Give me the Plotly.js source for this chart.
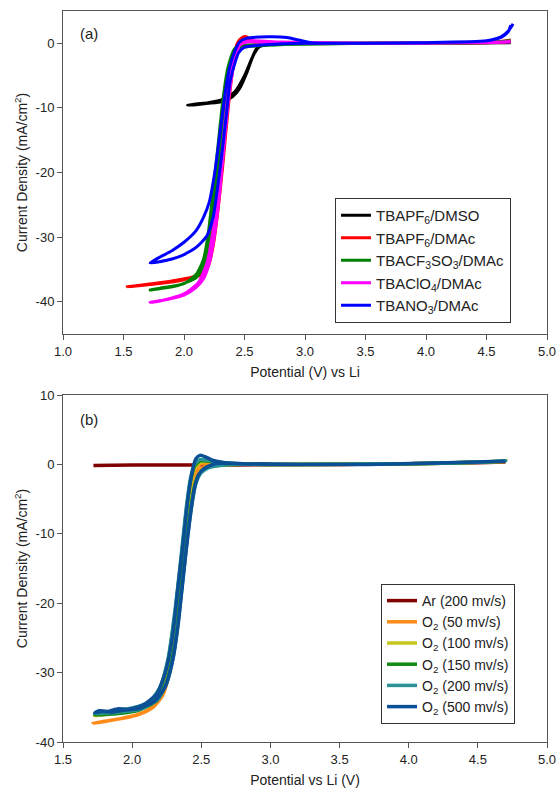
<!DOCTYPE html>
<html>
<head>
<meta charset="utf-8">
<script src="https://cdn.plot.ly/plotly-3.0.1.min.js"></script>
<style>html,body{margin:0;padding:0;background:#fff;}#chart{width:559px;height:789px;}</style>
</head>
<body>
<div id="chart"></div>
<script>
// ---------- Panel (a): CVs in different electrolytes ----------
const namesA = ["TBAPF<sub>6</sub>/DMSO", "TBAPF<sub>6</sub>/DMAc", "TBACF<sub>3</sub>SO<sub>3</sub>/DMAc", "TBAClO<sub>4</sub>/DMAc", "TBANO<sub>3</sub>/DMAc"];
const colorsA = ["#000000", "#ff0000", "#008000", "#ff00ff", "#0000ff"];

const dmsoX = [4.7, 4.0, 3.0, 2.7, 2.62, 2.57, 2.52, 2.46, 2.40, 2.32, 2.2, 2.1, 2.03, 2.1, 2.2, 2.32, 2.42, 2.50, 2.55, 2.60, 2.65, 2.8, 3.5, 4.7];
const dmsoY = [0.1, 0, 0, -0.1, -0.6, -2.0, -4.5, -7.0, -8.3, -9.0, -9.3, -9.5, -9.6, -9.4, -9.2, -8.7, -7.5, -5.0, -2.8, -0.8, -0.1, 0, 0, 0.1];

const pf6X = [4.7, 4.5, 3.5, 2.8, 2.6, 2.52, 2.48, 2.44, 2.40, 2.36, 2.32, 2.28, 2.24, 2.20, 2.15, 2.0, 1.8, 1.53, 1.7, 1.9, 2.1, 2.18, 2.23, 2.27, 2.31, 2.35, 2.40, 2.44, 2.48, 2.52, 2.56, 2.7, 3.5, 4.5, 4.7];
const pf6Y = [0.3, 0.1, 0, 0, 0.1, 0.6, 0.5, -1, -4.5, -11, -19, -26, -31.5, -34.5, -35.8, -36.6, -37.2, -37.7, -37.3, -36.8, -36, -34.8, -31, -26, -19, -11, -3.5, 0, 0.9, 1.0, 0.4, 0.1, 0, 0.1, 0.5];

const cf3X = [4.7, 4.5, 3.5, 3.0, 2.7, 2.5, 2.44, 2.40, 2.36, 2.32, 2.28, 2.24, 2.20, 2.15, 2.10, 1.95, 1.72, 1.8, 2.0, 2.1, 2.16, 2.20, 2.24, 2.28, 2.32, 2.36, 2.42, 2.5, 2.8, 3.5, 4.5, 4.7];
const cf3Y = [0.4, 0.1, 0, -0.1, -0.3, -0.6, -1.2, -3, -7, -13, -20, -27, -32, -35, -36.3, -37.5, -38.2, -37.9, -37.2, -35.8, -33.5, -29.5, -23, -16, -9, -4, -0.8, -0.3, -0.2, 0, 0.1, 0.4];

const clo4X = [4.7, 4.5, 3.5, 2.7, 2.52, 2.46, 2.42, 2.38, 2.35, 2.32, 2.29, 2.25, 2.21, 2.16, 2.10, 2.0, 1.85, 1.72, 1.8, 2.0, 2.12, 2.19, 2.24, 2.28, 2.31, 2.34, 2.38, 2.42, 2.48, 2.55, 2.8, 3.5, 4.5, 4.7];
const clo4Y = [0.2, 0.1, 0, 0.1, 0.2, -0.3, -2.5, -7, -12, -18, -24, -30, -34, -36.5, -37.8, -39, -39.7, -40.1, -39.9, -38.8, -37, -34, -29, -23, -18, -12, -5.5, -1.5, 0.1, 0.4, 0.2, 0, 0.1, 0.3];

const no3X = [4.7, 4.68, 4.62, 4.5, 4.0, 3.5, 3.0, 2.7, 2.5, 2.45, 2.42, 2.38, 2.36, 2.32, 2.28, 2.24, 2.19, 2.1, 2.0, 1.9, 1.8, 1.72, 1.78, 1.9, 2.0, 2.1, 2.16, 2.21, 2.25, 2.28, 2.31, 2.35, 2.38, 2.42, 2.46, 2.52, 2.7, 2.85, 2.95, 3.05, 3.5, 4.0, 4.5, 4.62, 4.68, 4.72];
const no3Y = [2.8, 1.8, 0.9, 0.4, 0.1, 0, 0, -0.2, -0.6, -1.5, -3.1, -6, -9.3, -16, -22, -27, -29.8, -31.6, -32.7, -33.4, -33.8, -34, -33.3, -32.1, -30.8, -29, -27, -24.5, -20.5, -16.5, -12, -6.5, -3.5, -1.2, 0.2, 0.8, 1.0, 0.9, 0.5, 0.1, 0, 0.1, 0.4, 1.0, 1.9, 3.0];

// tick labels (hyphen minus as in the original)
const yTicksA = [0, -10, -20, -30, -40];
const yTickTextA = ["0", "-10", "-20", "-30", "-40"];
const yTicksB = [10, 0, -10, -20, -30, -40];
const yTickTextB = ["10", "0", "-10", "-20", "-30", "-40"];

// ---------- Panel (b): scan rates ----------
const namesB = ["Ar (200 mv/s)", "O<sub>2</sub> (50 mv/s)", "O<sub>2</sub> (100 mv/s)", "O<sub>2</sub> (150 mv/s)", "O<sub>2</sub> (200 mv/s)", "O<sub>2</sub> (500 mv/s)"];
const colorsB = ["#800000", "#ff8c1a", "#c5c81a", "#138a13", "#2a9494", "#0b4f94"];

const arX = [1.72, 2.0, 2.5, 3.0, 3.5, 4.0, 4.5, 4.7];
const arY = [-0.15, -0.1, -0.1, -0.05, 0, 0.1, 0.25, 0.35];

const o50X = [4.7, 4.5, 4.0, 3.5, 3.0, 2.7, 2.55, 2.5, 2.46, 2.43, 2.40, 2.37, 2.34, 2.31, 2.27, 2.22, 2.15, 2.05, 1.9, 1.72, 1.8, 2.0, 2.12, 2.2, 2.26, 2.31, 2.35, 2.39, 2.42, 2.45, 2.5, 2.6, 3.0, 3.5, 4.0, 4.5, 4.7];
const o50Y = [0.4, 0.3, 0.1, 0, 0, 0, -0.2, -0.6, -1.5, -4, -8.5, -14, -19.5, -25, -30, -33.3, -35, -36, -36.7, -37.3, -37.0, -36.3, -35.3, -33.5, -30, -24, -17, -10, -4.5, -1, 0.1, 0.1, 0, 0, 0.1, 0.3, 0.4];

const o100X = [4.7, 4.0, 3.0, 2.7, 2.55, 2.5, 2.46, 2.43, 2.40, 2.37, 2.34, 2.30, 2.25, 2.18, 2.05, 1.9, 1.73, 1.85, 2.0, 2.12, 2.2, 2.26, 2.31, 2.35, 2.39, 2.42, 2.45, 2.49, 2.55, 2.65, 3.0, 4.0, 4.5, 4.7];
const o100Y = [0.45, 0.1, 0, 0, -0.3, -0.9, -2.2, -5, -9.5, -15, -20.5, -26.5, -31, -33.8, -35.3, -35.8, -36.2, -35.9, -35.4, -34.5, -32.5, -28.5, -22, -15, -7.5, -3, -0.6, 0.3, 0.4, 0.1, 0, 0.1, 0.3, 0.45];

const o150X = [4.7, 4.0, 3.0, 2.7, 2.55, 2.5, 2.46, 2.43, 2.40, 2.37, 2.34, 2.30, 2.25, 2.18, 2.05, 1.9, 1.73, 1.85, 2.0, 2.12, 2.2, 2.26, 2.31, 2.35, 2.39, 2.42, 2.45, 2.49, 2.55, 2.65, 3.0, 4.0, 4.5, 4.7];
const o150Y = [0.45, 0.1, 0, 0, -0.4, -1.0, -2.5, -5.5, -10, -15.5, -21, -27, -31.3, -34, -35.4, -35.9, -36.1, -35.8, -35.3, -34.4, -32.3, -28.2, -21.5, -14.5, -7, -2.6, -0.3, 0.5, 0.5, 0.2, 0, 0.1, 0.3, 0.45];

const o200X = [4.7, 4.0, 3.0, 2.7, 2.55, 2.5, 2.46, 2.43, 2.40, 2.37, 2.34, 2.30, 2.25, 2.18, 2.05, 1.9, 1.73, 1.85, 2.0, 2.12, 2.2, 2.26, 2.31, 2.35, 2.39, 2.42, 2.45, 2.49, 2.55, 2.65, 3.0, 4.0, 4.5, 4.7];
const o200Y = [0.45, 0.1, 0, 0, -0.5, -1.2, -2.8, -6, -10.5, -16, -21.5, -27.5, -31.5, -34, -35.3, -35.7, -35.9, -35.6, -35.1, -34.3, -32.2, -28, -21, -14, -6.5, -2.2, 0, 0.7, 0.6, 0.2, 0, 0.1, 0.3, 0.45];

const o500X = [4.7, 4.5, 4.2, 3.7, 3.2, 2.8, 2.6, 2.52, 2.48, 2.45, 2.42, 2.39, 2.36, 2.33, 2.29, 2.24, 2.17, 2.05, 1.95, 1.85, 1.78, 1.73, 1.76, 1.82, 1.9, 1.97, 2.05, 2.1, 2.18, 2.24, 2.29, 2.33, 2.37, 2.40, 2.43, 2.46, 2.49, 2.53, 2.58, 2.65, 2.8, 3.2, 3.7, 4.2, 4.5, 4.7];
const o500Y = [0.5, 0.35, 0.2, 0, 0, 0.1, 0.1, -0.6, -1.5, -3.5, -7.5, -12.5, -18, -23.5, -28.5, -32, -34, -35.2, -35.4, -35.7, -35.6, -35.8, -35.5, -35.6, -35.2, -35.3, -34.9, -34.4, -33, -30, -25, -18, -11, -5.5, -1.5, 0.8, 1.3, 1.1, 0.6, 0.3, 0.1, 0, 0, 0.2, 0.35, 0.5];

const dataA = [[dmsoX, dmsoY], [pf6X, pf6Y], [cf3X, cf3Y], [clo4X, clo4Y], [no3X, no3Y]];
const dataB = [[arX, arY], [o50X, o50Y], [o100X, o100Y], [o150X, o150Y], [o200X, o200Y], [o500X, o500Y]];

const traces = [];
dataA.forEach((d, i) => traces.push({
  x: d[0], y: d[1], type: "scatter", mode: "lines", name: namesA[i],
  line: {color: colorsA[i], width: 3, shape: "spline", smoothing: 0.6},
  xaxis: "x", yaxis: "y", legend: "legend"
}));
dataB.forEach((d, i) => traces.push({
  x: d[0], y: d[1], type: "scatter", mode: "lines", name: namesB[i],
  line: {color: colorsB[i], width: 3.5, shape: "spline", smoothing: 0.6},
  xaxis: "x2", yaxis: "y2", legend: "legend2"
}));

const font = {family: "Liberation Sans, Arial, sans-serif", size: 13, color: "#222"};
const axBase = {
  showline: true, mirror: true, linecolor: "#555", linewidth: 1,
  ticks: "outside", ticklen: 5, tickcolor: "#555", tickwidth: 1,
  showgrid: false, zeroline: false, tickfont: {size: 13, color: "#222"}
};
const D = 731;
const layout = {
  width: 559, height: 789,
  margin: {l: 63, r: 12, t: 11, b: 47},
  paper_bgcolor: "#fff", plot_bgcolor: "#fff",
  font: font,
  showlegend: true,
  xaxis: Object.assign({}, axBase, {domain: [0, 1], range: [1.0, 5.0], dtick: 0.5, tickformat: ".1f", anchor: "y",
    title: {text: "Potential (V) vs Li", font: {size: 14, color: "#222"}, standoff: 9}}),
  yaxis: Object.assign({}, axBase, {domain: [(742 - 334) / D, 1], range: [-45, 5], tickmode: "array", tickvals: yTicksA, ticktext: yTickTextA, anchor: "x",
    title: {text: "Current Density (mA/cm<sup>2</sup>)", font: {size: 14, color: "#222"}, standoff: 4}}),
  xaxis2: Object.assign({}, axBase, {domain: [0, 1], range: [1.5, 5.0], dtick: 0.5, tickformat: ".1f", anchor: "y2",
    title: {text: "Potential vs Li (V)", font: {size: 14, color: "#222"}, standoff: 9}}),
  yaxis2: Object.assign({}, axBase, {domain: [0, (742 - 395) / D], range: [-40, 10], tickmode: "array", tickvals: yTicksB, ticktext: yTickTextB, anchor: "x2",
    title: {text: "Current Density (mA/cm<sup>2</sup>)", font: {size: 14, color: "#222"}, standoff: 4}}),
  legend: {x: (335 - 63) / 484, y: (742 - 198) / D, xanchor: "left", yanchor: "top",
    bordercolor: "#333", borderwidth: 1, bgcolor: "#fff", font: {size: 15, color: "#222"}, tracegroupgap: 0},
  legend2: {x: (381 - 63) / 484, y: (742 - 584) / D, xanchor: "left", yanchor: "top",
    bordercolor: "#333", borderwidth: 1, bgcolor: "#fff", font: {size: 14, color: "#222"}, tracegroupgap: 0},
  annotations: [
    {text: "(a)", xref: "paper", yref: "paper", x: (78 - 63) / 484, y: (742 - 33) / D, xanchor: "left", yanchor: "middle", showarrow: false, font: {size: 15, color: "#222"}},
    {text: "(b)", xref: "paper", yref: "paper", x: (78 - 63) / 484, y: (742 - 419) / D, xanchor: "left", yanchor: "middle", showarrow: false, font: {size: 15, color: "#222"}}
  ]
};
Plotly.newPlot("chart", traces, layout, {displayModeBar: false, staticPlot: true});
</script>
</body>
</html>
